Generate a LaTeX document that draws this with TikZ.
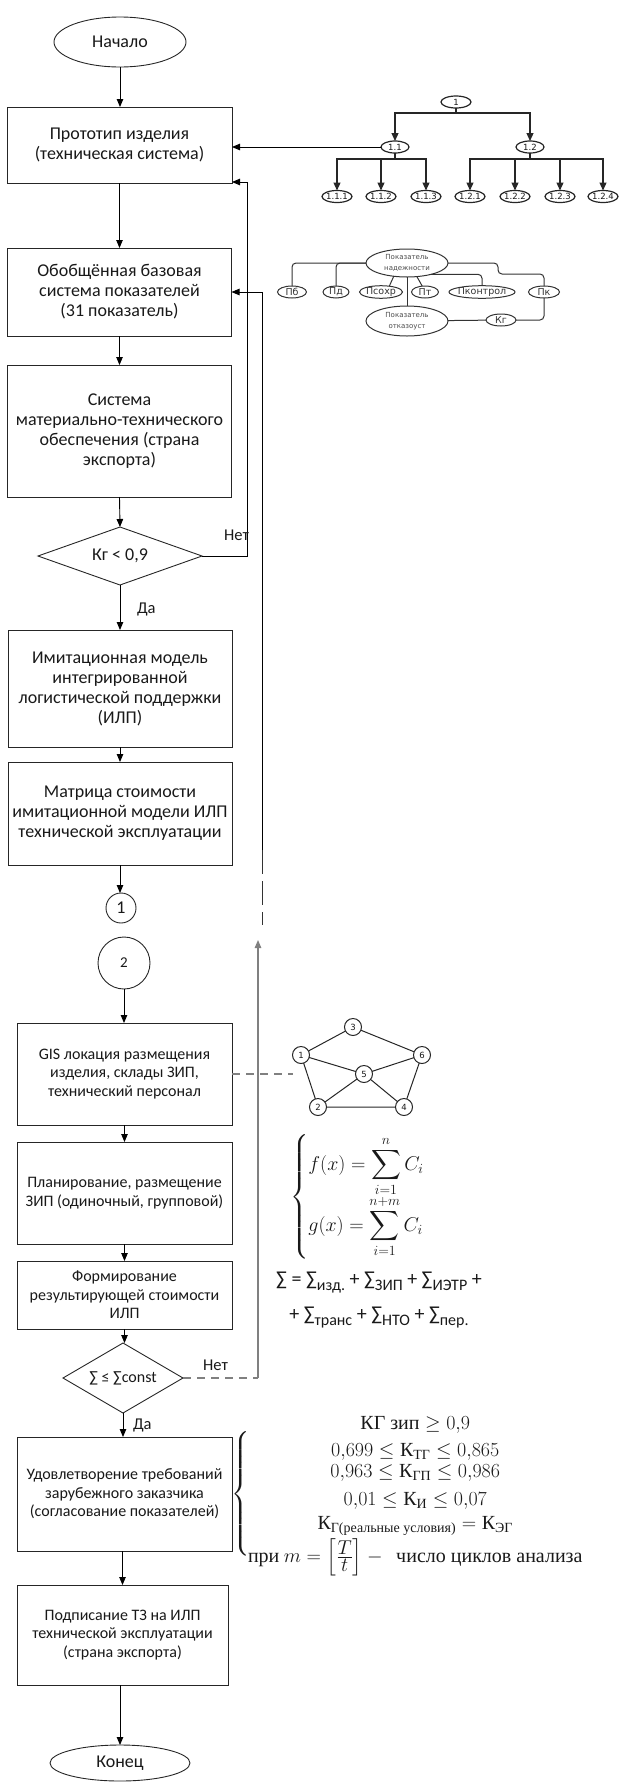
\RequirePackage{fix-cm}
\documentclass[tikz,border=0pt]{standalone}
\usepackage{amsmath}
\usepackage[no-math]{fontspec}
\setmainfont{Carlito}
\newfontfamily\fserif{Liberation Serif}
\newfontfamily\fdv{DejaVu Sans}
\usetikzlibrary{shapes.geometric,arrows.meta,calc}

% Cyrillic text inside formulas
\newcommand\cy[1]{\text{\fserif #1}}
% summation sign with a lowered index, as in the cost breakdown
\newcommand\sumsub[1]{∑\raisebox{-4.5pt}{\fontsize{16}{16}\selectfont #1}}
\newcommand\tn[1]{\makebox[0pt]{#1}}

\definecolor{lineclr}{HTML}{262626}
\definecolor{greyln}{HTML}{808080}

\tikzset{
  every node/.style={inner sep=0pt, outer sep=0pt, text=black!90},
  boxfont/.style={font=\fontsize{18}{20}\selectfont},
  lowfont/.style={font=\fontsize{16}{18.5}\selectfont},
  lblfont/.style={font=\fontsize{16.5}{18}\selectfont},
  stepbox/.style={draw=lineclr, line width=0.9pt, rectangle, align=center, boxfont},
  lowbox/.style={draw=lineclr, line width=0.9pt, rectangle, align=center, lowfont},
  term/.style={draw=lineclr, line width=0.9pt, ellipse, boxfont},
  decide/.style={draw=lineclr, line width=0.9pt, diamond, boxfont},
  conn/.style={draw=lineclr, line width=0.9pt, circle, boxfont},
  lbl/.style={lblfont},
  arr/.style={draw=black, line width=0.9pt, -{Triangle[length=8pt,width=6.5pt]}},
  ln/.style={draw=black!80, line width=0.9pt},
  gdash/.style={draw=greyln, line width=1.2pt, dash pattern=on 8pt off 6pt},
  garr/.style={draw=greyln, line width=1.2pt, -{Triangle[length=8pt,width=6.5pt]}},
  tnode/.style={draw=black!85, line width=1.2pt, ellipse, minimum width=#1, minimum height=12pt, font=\fdv\fontsize{8.5}{9}\selectfont},
  tline/.style={draw=black!85, line width=1.2pt},
  tarr/.style={draw=black!85, line width=1.2pt, -{Triangle[length=8pt,width=7pt]}},
  rnode/.style={draw=black!80, line width=1pt, ellipse, minimum width=#1, minimum height=12pt, font=\fdv\fontsize{9.5}{10}\selectfont, text=black!80},
  rbig/.style={draw=black!80, line width=1pt, ellipse, minimum width=82pt, minimum height=28pt, align=center, font=\fdv\fontsize{7}{11}\selectfont, text=black!70},
  rline/.style={draw=black!80, line width=1pt, rounded corners=4pt},
  gnode/.style={draw=black!85, line width=1pt, circle, minimum size=17pt, font=\fdv\fontsize{8.5}{9}\selectfont},
  gedge/.style={draw=black!85, line width=1pt},
  formula/.style={font=\fontsize{20}{22}\selectfont}
}

\begin{document}
\begin{tikzpicture}[x=1pt,y=-1pt]
\useasboundingbox (0,0) rectangle (619,1783);

% ---------- main flow, upper part ----------
\node[term, minimum width=132pt, minimum height=50pt] (start) at (120,42) {Начало};
\node[stepbox, minimum width=225pt, minimum height=76pt] (b1) at (119.5,145) {Прототип изделия\\(техническая система)};
\node[stepbox, minimum width=224pt, minimum height=88pt] (b2) at (119.5,292) {Обобщённая базовая\\система показателей\\(31 показатель)};
\node[stepbox, minimum width=224pt, minimum height=132pt] (b3) at (119.5,431) {Система\\материально-технического\\обеспечения (страна\\экспорта)};
\node[decide, aspect=2.8, minimum width=164pt, minimum height=58pt] (d1) at (120,556) {Кг < 0,9};
\node[stepbox, minimum width=224pt, minimum height=117pt] (b4) at (120,688.5) {Имитационная модель\\интегрированной\\логистической поддержки\\(ИЛП)};
\node[stepbox, minimum width=224pt, minimum height=103pt] (b5) at (120,813.5) {Матрица стоимости\\имитационной модели ИЛП\\технической эксплуатации};
\node[conn, minimum size=30pt] (c1) at (121,908) {1};

% ---------- main flow, lower part ----------
\node[conn, minimum size=52pt, font=\fontsize{15}{15}\selectfont] (c2) at (124,963) {2};
\node[lowbox, minimum width=215pt, minimum height=102pt] (b6) at (124.5,1074) {GIS локация размещения\\изделия, склады ЗИП,\\технический персонал};
\node[lowbox, minimum width=215pt, minimum height=102pt] (b7) at (124.5,1193) {Планирование, размещение\\ЗИП (одиночный, групповой)};
\node[lowbox, minimum width=215pt, minimum height=68pt] (b8) at (124.5,1295) {Формирование\\результирующей стоимости\\ИЛП};
\node[decide, lowfont, aspect=1.7, minimum width=120pt, minimum height=70pt] (d2) at (123,1378) {∑ ≤ ∑const};
\node[lowbox, minimum width=215pt, minimum height=114pt] (b9) at (124.5,1494) {Удовлетворение требований\\зарубежного заказчика\\(согласование показателей)};
\node[lowbox, minimum width=211pt, minimum height=100pt] (b10) at (122.5,1635) {Подписание ТЗ на ИЛП\\технической эксплуатации\\(страна экспорта)};
\node[term, minimum width=140pt, minimum height=36pt] (end) at (120,1763) {Конец};

% ---------- flow connectors ----------
\draw[arr] (start.south) -- (start.south |- b1.north);
\draw[arr] (b1.south) -- (b2.north);
\draw[arr] (b2.south) -- (b3.north);
\draw[arr] (b3.south) -- (d1.north);
\draw[arr] (d1.south) -- (d1.south |- b4.north);
\draw[arr] (b4.south) -- (b5.north);
\draw[arr] (b5.south) -- (b5.south |- c1.north);
\draw[arr] (c2.south) -- (c2.south |- b6.north);
\draw[arr] (b6.south) -- (b7.north);
\draw[arr] (b7.south) -- (b8.north);
\draw[arr] (b8.south) -- (b8.south |- d2.north);
\draw[arr] (d2.south) -- (d2.south |- b9.north);
\draw[arr] (b9.south -| b10.north) -- (b10.north);
\draw[arr] (b10.south -| end.north) -- (end.north);

\node[lbl, anchor=west] (da1) at (137,609) {Да};
\node[lbl, anchor=west] (da2) at (133,1425) {Да};

% "no" return from the availability check
\coordinate (n1a) at (247,556);
\coordinate (n1b) at (247,182);
\draw[arr] (d1.east) -- (n1a) -- (n1b) -- (n1b -| b1.east);
\node[lbl, anchor=east] (net1) at (249,535) {Нет};

% return into the indicator system
\coordinate (r1) at (262,925);
\coordinate (r2) at (262,850);
\coordinate (r3) at (262,292);
\draw[ln, dash pattern=on 24pt off 7pt] (r2) -- (r1);
\draw[arr] (r2) -- (r3) -- (r3 -| b2.east);

% "no" return from the cost check
\coordinate (q1) at (258,1378);
\coordinate (q2) at (258,940);
\draw[gdash] (d2.east) -- (q1);
\draw[garr] (q1) -- (q2);
\node[lbl, anchor=east] (net2) at (228,1365) {Нет};

% ---------- product structure tree ----------
\node[tnode=30pt] (t1) at (456,102) {\tn{1}};
\node[tnode=28pt] (t11) at (395,147) {\tn{1.1}};
\node[tnode=28pt] (t12) at (530,147) {\tn{1.2}};
\node[tnode=30pt] (t111) at (337,196.5) {\tn{1.1.1}};
\node[tnode=30pt] (t112) at (381,196.5) {\tn{1.1.2}};
\node[tnode=30pt] (t113) at (426,196.5) {\tn{1.1.3}};
\node[tnode=30pt] (t121) at (470,196.5) {\tn{1.2.1}};
\node[tnode=30pt] (t122) at (515,196.5) {\tn{1.2.2}};
\node[tnode=30pt] (t123) at (560,196.5) {\tn{1.2.3}};
\node[tnode=30pt] (t124) at (603,196.5) {\tn{1.2.4}};
\coordinate (tb1) at (456,113);
\coordinate (tb11) at (395,159);
\coordinate (tb12) at (530,159);
\draw[tline] (t1.south) -- (tb1);
\draw[tarr] (tb1) -| (t11.north);
\draw[tarr] (tb1) -| (t12.north);
\draw[tline] (t11.south) -- (tb11);
\draw[tline] (t12.south) -- (tb12);
\foreach \c in {t111,t112,t113} \draw[tarr] (tb11) -| (\c.north);
\foreach \c in {t121,t122,t123,t124} \draw[tarr] (tb12) -| (\c.north);
\draw[arr] (t11.west) -- (t11.west -| b1.east);

% ---------- reliability indicators ----------
\node[rbig] (pn) at (407,263) {Показатель\\надежности};
\node[rbig, minimum height=30pt] (po) at (407,321) {Показатель\\отказоуст};
\node[rnode=29pt] (pb) at (292,292) {\tn{Пб}};
\node[rnode=26pt] (pd) at (336,292) {\tn{Пд}};
\node[rnode=43pt] (ps) at (381,292) {\tn{Псохр}};
\node[rnode=27pt] (pt) at (425,292) {\tn{Пт}};
\node[rnode=66pt] (pkn) at (482,292) {\tn{Пконтрол}};
\node[rnode=31pt] (pk) at (544,292) {\tn{Пк}};
\node[rnode=30pt] (kg) at (501,320) {\tn{Кг}};
\coordinate (pk1) at (498,263);
\coordinate (pk2) at (498,274);
\draw[rline] (pn.west) -| (pb.north);
\draw[rline] (pn.west) -| (pd.north);
\draw[rline] (pn.225) -- (ps.35);
\draw[rline] (pn.306) -- (pt.115);
\draw[rline] (pn.south) -- (po.north);
\draw[rline] (pn.-25) -| (pkn.north);
\draw[rline] (pn.east) -- (pk1) -- (pk2) -| (pk.north);
\draw[rline] (pk.south) |- (kg.east);
\draw[rline] (kg) -- (po);

% ---------- service network graph ----------
\node[gnode] (g1) at (301,1055) {1};
\node[gnode] (g3) at (353,1027) {3};
\node[gnode] (g6) at (422,1055) {6};
\node[gnode] (g5) at (364,1074) {5};
\node[gnode] (g2) at (318,1107) {2};
\node[gnode] (g4) at (404,1107) {4};
\draw[gedge] (g1) -- (g3) (g3) -- (g6) (g1) -- (g5) (g5) -- (g6)
  (g1) -- (g2) (g2) -- (g5) (g5) -- (g4) (g6) -- (g4) (g2) -- (g4);
\coordinate (gd) at (293,1074);
\draw[gdash] (b6.east) -- (gd);

% ---------- formulas ----------
\node[formula, anchor=west] (f1) at (290,1197) {$\begin{cases}\displaystyle f(x)=\sum_{i=1}^{n} C_i\\[-1pt] \displaystyle g(x)=\sum_{i=1}^{n+m} C_i\end{cases}$};

\node[align=center, font=\fontsize{20}{35}\selectfont] (f2) at (379,1300) {∑ = \sumsub{изд.} + \sumsub{ЗИП} + \sumsub{ИЭТР} +\\+ \sumsub{транс} + \sumsub{НТО} + \sumsub{пер.}};

\node[formula, anchor=east] (f3br) at (249,1494) {$\left\{\vcenter{\hbox{\rule{0pt}{128pt}}}\right.\kern-2pt$};
\node[formula, anchor=north west] (f3) at (248,1414) {$\begin{array}{@{}c@{}}
\cy{КГ зип} \geq 0{,}9\\[5pt]
0{,}699 \leq \cy{К}_{\cy{ТГ}} \leq 0{,}865\\[-1pt]
0{,}963 \leq \cy{К}_{\cy{ГП}} \leq 0{,}986\\[6pt]
0{,}01 \leq \cy{К}_{\cy{И}} \leq 0{,}07\\[2pt]
\cy{К}_{\cy{Г(реальные условия)}} = \cy{К}_{\cy{ЭГ}}\\[3pt]
\cy{при}\ m = \left[\frac{\textstyle T}{\textstyle t}\right] -\ \ \cy{число циклов анализа}
\end{array}$};

\end{tikzpicture}
\end{document}
